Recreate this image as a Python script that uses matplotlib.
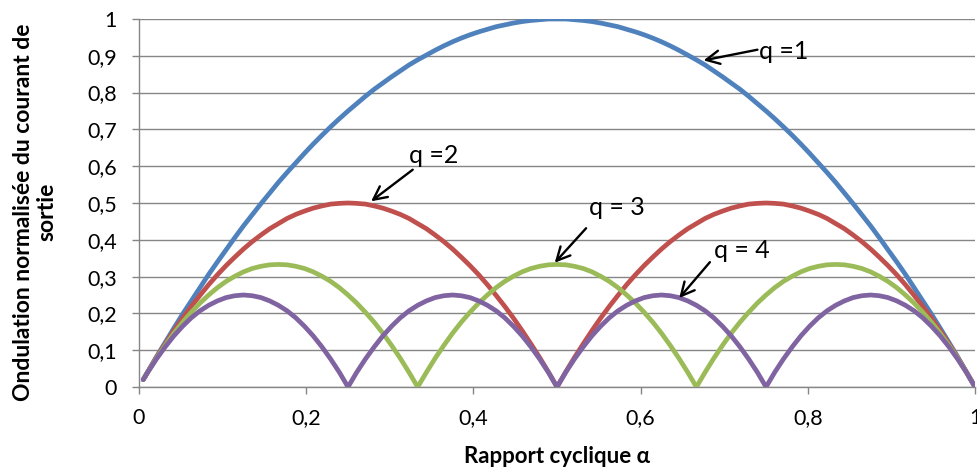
import matplotlib
matplotlib.use("Agg")
import matplotlib.pyplot as plt

# rapport cyclique alpha
alpha = [0.005, 0.0104, 0.0208, 0.0313, 0.0417, 0.0521, 0.0625, 0.0729, 0.0833, 0.0938,
         0.1042, 0.1146, 0.125, 0.1354, 0.1458, 0.1563, 0.1667, 0.1771, 0.1875, 0.1979,
         0.2083, 0.2188, 0.2292, 0.2396, 0.25, 0.2604, 0.2708, 0.2813, 0.2917, 0.3021,
         0.3125, 0.3229, 0.3333, 0.3438, 0.3542, 0.3646, 0.375, 0.3854, 0.3958, 0.4063,
         0.4167, 0.4271, 0.4375, 0.4479, 0.4583, 0.4688, 0.4792, 0.4896, 0.5,
         0.5104, 0.5208, 0.5313, 0.5417, 0.5521, 0.5625, 0.5729, 0.5833, 0.5938, 0.6042,
         0.6146, 0.625, 0.6354, 0.6458, 0.6563, 0.6667, 0.6771, 0.6875, 0.6979, 0.7083,
         0.7188, 0.7292, 0.7396, 0.75, 0.7604, 0.7708, 0.7813, 0.7917, 0.8021, 0.8125,
         0.8229, 0.8333, 0.8438, 0.8542, 0.8646, 0.875, 0.8854, 0.8958, 0.9063, 0.9167,
         0.9271, 0.9375, 0.9479, 0.9583, 0.9688, 0.9792, 0.9896, 1.0]

q1 = [0.020, 0.041, 0.082, 0.121, 0.160, 0.198, 0.234, 0.270, 0.306, 0.340,
      0.373, 0.406, 0.438, 0.468, 0.498, 0.527, 0.556, 0.583, 0.609, 0.635,
      0.660, 0.684, 0.707, 0.729, 0.750, 0.770, 0.790, 0.809, 0.826, 0.843,
      0.859, 0.875, 0.889, 0.902, 0.915, 0.927, 0.938, 0.948, 0.957, 0.965,
      0.972, 0.979, 0.984, 0.989, 0.993, 0.996, 0.998, 1.000, 1.000,
      1.000, 0.998, 0.996, 0.993, 0.989, 0.984, 0.979, 0.972,
      0.965, 0.957, 0.948, 0.938, 0.927, 0.915, 0.902, 0.889, 0.875, 0.859,
      0.843, 0.826, 0.809, 0.790, 0.770, 0.750, 0.729, 0.707, 0.684, 0.660,
      0.635, 0.609, 0.583, 0.556, 0.527, 0.498, 0.468, 0.438, 0.406, 0.373,
      0.340, 0.306, 0.270, 0.234, 0.198, 0.160, 0.121, 0.082, 0.041, 0.000]

q2 = [0.020,
      0.041, 0.080, 0.117, 0.153, 0.187, 0.219, 0.249, 0.278, 0.305, 0.330, 0.353, 0.375,
      0.395, 0.413, 0.430, 0.444, 0.458, 0.469, 0.478, 0.486, 0.492, 0.497, 0.499, 0.500,
      0.499, 0.497, 0.492, 0.486, 0.478, 0.469, 0.458, 0.444, 0.430, 0.413, 0.395, 0.375,
      0.353, 0.330, 0.305, 0.278, 0.249, 0.219, 0.187, 0.153, 0.117, 0.080, 0.041, 0.000,
      0.041, 0.080, 0.117, 0.153, 0.187, 0.219, 0.249, 0.278, 0.305, 0.330, 0.353, 0.375,
      0.395, 0.413, 0.430, 0.444, 0.458, 0.469, 0.478, 0.486, 0.492, 0.497, 0.499, 0.500,
      0.499, 0.497, 0.492, 0.486, 0.478, 0.469, 0.458, 0.444, 0.430, 0.413, 0.395, 0.375,
      0.353, 0.330, 0.305, 0.278, 0.249, 0.219, 0.187, 0.153, 0.117, 0.080, 0.041, 0.000]

q3 = [0.020,
      0.040, 0.078, 0.113, 0.146, 0.176, 0.203, 0.228, 0.250, 0.270, 0.287, 0.301,
      0.313, 0.322, 0.328, 0.332, 0.333, 0.332, 0.328, 0.322, 0.313, 0.301, 0.287,
      0.270, 0.250, 0.228, 0.203, 0.176, 0.146, 0.113, 0.078, 0.040, 0.000,
      0.040, 0.078, 0.113, 0.146, 0.176, 0.203, 0.228, 0.250, 0.270, 0.287, 0.301,
      0.313, 0.322, 0.328, 0.332, 0.333, 0.332, 0.328, 0.322, 0.313, 0.301, 0.287,
      0.270, 0.250, 0.228, 0.203, 0.176, 0.146, 0.113, 0.078, 0.040, 0.000,
      0.040, 0.078, 0.113, 0.146, 0.176, 0.203, 0.228, 0.250, 0.270, 0.287, 0.301,
      0.313, 0.322, 0.328, 0.332, 0.333, 0.332, 0.328, 0.322, 0.313, 0.301, 0.287,
      0.270, 0.250, 0.228, 0.203, 0.176, 0.146, 0.113, 0.078, 0.040, 0.000]

q4 = [0.020,
      0.040, 0.076, 0.109, 0.139, 0.165, 0.188, 0.207, 0.222, 0.234, 0.243, 0.248, 0.250,
      0.248, 0.243, 0.234, 0.222, 0.207, 0.188, 0.165, 0.139, 0.109, 0.076, 0.040, 0.000,
      0.040, 0.076, 0.109, 0.139, 0.165, 0.188, 0.207, 0.222, 0.234, 0.243, 0.248, 0.250,
      0.248, 0.243, 0.234, 0.222, 0.207, 0.188, 0.165, 0.139, 0.109, 0.076, 0.040, 0.000,
      0.040, 0.076, 0.109, 0.139, 0.165, 0.188, 0.207, 0.222, 0.234, 0.243, 0.248, 0.250,
      0.248, 0.243, 0.234, 0.222, 0.207, 0.188, 0.165, 0.139, 0.109, 0.076, 0.040, 0.000,
      0.040, 0.076, 0.109, 0.139, 0.165, 0.188, 0.207, 0.222, 0.234, 0.243, 0.248, 0.250,
      0.248, 0.243, 0.234, 0.222, 0.207, 0.188, 0.165, 0.139, 0.109, 0.076, 0.040, 0.000]

series = [q1, q2, q3, q4]
colors = ["#4F81BD", "#C0504D", "#9BBB59", "#8064A2"]

# labels: text, text position, arrow tip / tail
labels = ["q =1", "q =2", "q = 3", "q = 4"]
text_pos = [(0.771, 0.913), (0.352, 0.630), (0.572, 0.489), (0.721, 0.372)]
tips = [(0.672, 0.886), (0.275, 0.500), (0.495, 0.332), (0.644, 0.236)]
tails = [(0.743, 0.918), (0.330, 0.595), (0.537, 0.437), (0.685, 0.345)]

plt.rcParams['font.family'] = ['Lato', 'DejaVu Sans']

fig = plt.figure(figsize=(9.77, 4.70), dpi=100)
ax = fig.add_axes([0.1423, 0.1766, 0.998 - 0.1423, 0.9596 - 0.1766])

for ys, c in zip(series, colors):
    ax.plot(alpha, ys, color=c, lw=3.4, solid_capstyle='round', solid_joinstyle='round', zorder=3)

grid_c = "#868686"
ax.set_xlim(0, 1)
ax.set_ylim(0, 1)
ax.set_xticks([0, 0.2, 0.4, 0.6, 0.8, 1])
ax.set_xticklabels(["0", "0,2", "0,4", "0,6", "0,8", "1"])
ax.set_yticks([i / 10 for i in range(11)])
ax.set_yticklabels(["0", "0,1", "0,2", "0,3", "0,4", "0,5", "0,6", "0,7", "0,8", "0,9", "1"])
ax.yaxis.grid(True, color=grid_c, lw=1)
ax.set_axisbelow(True)
for s in ["top", "right"]:
    ax.spines[s].set_visible(False)
for s in ["left", "bottom"]:
    ax.spines[s].set_color(grid_c)
    ax.spines[s].set_linewidth(1)
ax.tick_params(axis='both', colors=grid_c, labelcolor='black', labelsize=15.5, length=5, width=1)
ax.tick_params(axis='x', pad=10)
ax.tick_params(axis='y', pad=11)

ax.set_xlabel("Rapport cyclique α", fontsize=16, fontweight='bold', labelpad=13)
ax.set_ylabel("Ondulation normalisée du courant de\nsortie", fontsize=16.5, fontweight='bold',
              linespacing=1.2)
ax.yaxis.set_label_coords(-0.097, 0.475)

for lab, tp, tip, tail in zip(labels, text_pos, tips, tails):
    ax.text(tp[0], tp[1], lab, fontsize=18, ha='center', va='center', zorder=5)
    ax.annotate("", xy=tip, xytext=tail,
                arrowprops=dict(arrowstyle="->", color='black', lw=1.7, mutation_scale=24), zorder=5)

fig.savefig("out.png", dpi=100)
